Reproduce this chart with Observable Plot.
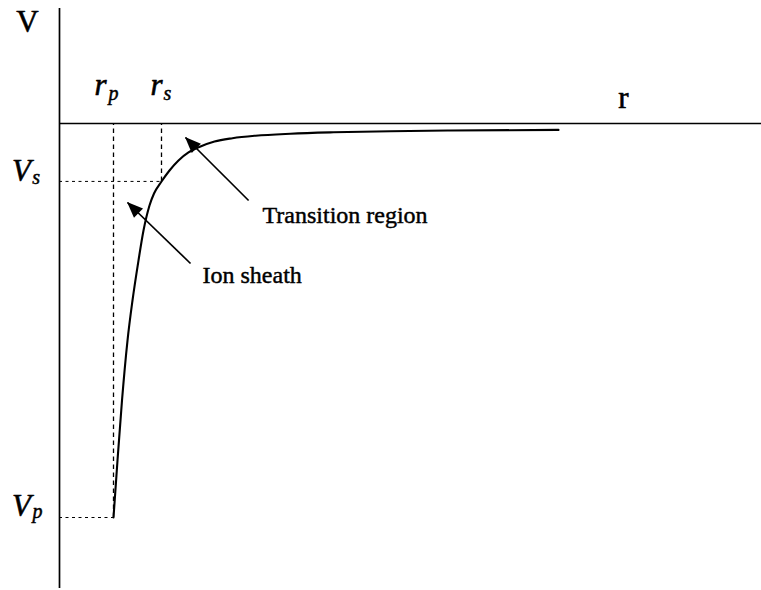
<!DOCTYPE html>
<html><head><meta charset="utf-8">
<script src="https://cdn.jsdelivr.net/npm/d3@7"></script>
<script src="https://cdn.jsdelivr.net/npm/@observablehq/plot@0.6"></script>
<style>html,body{margin:0;padding:0;background:#fff} svg{display:block}</style>
</head><body><div id="chart"></div>
<script>
// Characteristic radii and potentials (arbitrary units)
const rp = 1.125, rs = 2.125;
const Vs = -1.47, Vp = -10;

// Potential profile V(r)
const curveR = [1.125, 1.2083, 1.302, 1.4167, 1.5208, 1.6458, 1.75, 1.875, 1.969, 2.125, 2.2917, 2.479, 2.6875, 2.9375, 3.229, 3.604, 4.083, 4.8125, 5.708, 6.896, 8.146, 10.396];
const curveV = [-10.0, -8.553, -7.03, -5.508, -4.492, -3.477, -2.716, -2.081, -1.777, -1.472, -1.193, -0.939, -0.736, -0.584, -0.457, -0.373, -0.31, -0.259, -0.223, -0.195, -0.178, -0.162];

// Axes extents
const vAxisTop = 2.92, vAxisBottom = -11.8, rAxisEnd = 14.63;

// Annotation arrows (tail -> head)
const arrowLabels = ["Transition region", "Ion sheath"];
const arrowTailR = [3.94, 2.73], arrowTailV = [-1.954, -3.553];
const arrowHeadR = [2.625, 1.417], arrowHeadV = [-0.355, -2.005];
const arrowTextR = [4.229, 2.979], arrowTextV = [-2.513, -4.036];

// Axis / point labels
const mainLabels = ["V", "r"];
const mainR = [-0.667, 11.75], mainV = [2.335, 0.406];
const symLabels = ["r", "r", "V", "V"];
const symR = [0.854, 2.02, -0.792, -0.792], symV = [0.711, 0.711, -1.447, -9.95];
const subLabels = ["p", "s", "s", "p"];
const subR = [1.02, 2.167, -0.57, -0.5625], subV = [0.584, 0.584, -1.523, -10.0];

const curve = curveR.map((r, i) => ({r, v: curveV[i]}));
const arrows = arrowLabels.map((t, i) => ({t, r1: arrowTailR[i], v1: arrowTailV[i], r2: arrowHeadR[i], v2: arrowHeadV[i], tr: arrowTextR[i], tv: arrowTextV[i]}));
const mains = mainLabels.map((t, i) => ({t, r: mainR[i], v: mainV[i]}));
const syms = symLabels.map((t, i) => ({t, r: symR[i], v: symV[i]}));
const subs = subLabels.map((t, i) => ({t, r: subR[i], v: subV[i]}));

const font = "Liberation Serif, Times New Roman, serif";

function arrowHeads(index, scales) {
  const g = d3.create("svg:g");
  for (const a of arrows) {
    const x1 = scales.x(a.r1), y1 = scales.y(a.v1), x2 = scales.x(a.r2), y2 = scales.y(a.v2);
    const ang = Math.atan2(y2 - y1, x2 - x1);
    const L = 16, W = 6.5;
    const bx = x2 - L * Math.cos(ang), by = y2 - L * Math.sin(ang);
    const px = -Math.sin(ang) * W, py = Math.cos(ang) * W;
    g.append("path")
      .attr("d", `M${x2},${y2}L${bx + px},${by + py}L${bx - px},${by - py}Z`)
      .attr("fill", "black");
  }
  return g.node();
}

const textStyle = {fill: "black", stroke: "black", strokeWidth: 0.45, fontFamily: font, lineAnchor: "bottom"};

const chart = Plot.plot({
  width: 761,
  height: 590,
  margin: 0,
  style: {background: "#fff"},
  x: {type: "linear", domain: [0, 10], range: [59, 539], axis: null},
  y: {type: "linear", domain: [-10, 0], range: [517, 123], axis: null},
  marks: [
    // axes
    Plot.ruleX([0], {y1: vAxisBottom, y2: vAxisTop, stroke: "black", strokeWidth: 1.7}),
    Plot.ruleY([0], {x1: 0, x2: rAxisEnd, stroke: "black", strokeWidth: 1.6}),
    // dashed guides
    Plot.ruleX([rp], {y1: Vp, y2: 0, stroke: "black", strokeWidth: 1.3, strokeDasharray: "4.5,3.5"}),
    Plot.ruleX([rs], {y1: Vs, y2: 0, stroke: "black", strokeWidth: 1.3, strokeDasharray: "4.5,3.5"}),
    Plot.ruleY([Vs], {x1: 0, x2: rs, stroke: "black", strokeWidth: 1, strokeDasharray: "3,3.5"}),
    Plot.ruleY([Vp], {x1: 0, x2: rp, stroke: "black", strokeWidth: 1, strokeDasharray: "3,3.5"}),
    // potential curve
    Plot.line(curve, {x: "r", y: "v", curve: "monotone-x", stroke: "black", strokeWidth: 2.1}),
    // arrows
    Plot.link(arrows, {x1: "r1", y1: "v1", x2: "r2", y2: "v2", stroke: "black", strokeWidth: 1.7}),
    arrowHeads,
    Plot.text(arrows, {...textStyle, x: "tr", y: "tv", text: "t", textAnchor: "start", fontSize: 24}),
    // labels
    Plot.text(mains, {...textStyle, x: "r", y: "v", text: "t", textAnchor: "middle", fontSize: 31, strokeWidth: 0.6}),
    Plot.text(syms, {...textStyle, x: "r", y: "v", text: "t", textAnchor: "middle", fontStyle: "italic", fontSize: 31, strokeWidth: 0.6}),
    Plot.text(subs, {...textStyle, x: "r", y: "v", text: "t", textAnchor: "start", fontStyle: "italic", fontSize: 20, strokeWidth: 0.5})
  ]
});
document.getElementById("chart").appendChild(chart);
</script>
</body></html>
